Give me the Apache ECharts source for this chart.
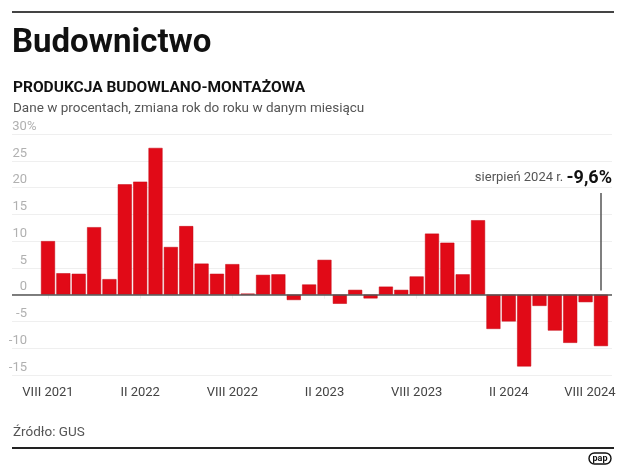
<!DOCTYPE html>
<html>
<head>
<meta charset="utf-8">
<script src="https://cdn.jsdelivr.net/npm/echarts@6/dist/echarts.min.js"></script>
<style>
  html, body { margin: 0; padding: 0; background: #fff; }
  #chart { width: 625px; height: 470px; }
</style>
</head>
<body>
<div id="chart"></div>
<script>
// Months VIII 2021 .. VIII 2024 (index 0..36)
const months = [
  'VIII 2021','IX 2021','X 2021','XI 2021','XII 2021',
  'I 2022','II 2022','III 2022','IV 2022','V 2022','VI 2022','VII 2022','VIII 2022','IX 2022','X 2022','XI 2022','XII 2022',
  'I 2023','II 2023','III 2023','IV 2023','V 2023','VI 2023','VII 2023','VIII 2023','IX 2023','X 2023','XI 2023','XII 2023',
  'I 2024','II 2024','III 2024','IV 2024','V 2024','VI 2024','VII 2024','VIII 2024'
];
const values = [
  10.0, 4.0, 3.9, 12.6, 2.9,
  20.6, 21.1, 27.4, 8.9, 12.8, 5.8, 3.9, 5.7, 0.2, 3.7, 3.8, -1.0,
  1.9, 6.5, -1.7, 0.9, -0.7, 1.5, 0.9, 3.4, 11.4, 9.7, 3.8, 13.9,
  -6.4, -5.0, -13.4, -2.1, -6.7, -9.0, -1.4, -9.6
];
const tickMonths = ['VIII 2021','II 2022','VIII 2022','II 2023','VIII 2023','II 2024','VIII 2024'];
const yTicks = [-15, -10, -5, 0, 5, 10, 15, 20, 25, 30];
const annotationMonth = 'VIII 2024';
const annotationText = 'sierpień 2024 r. ';
const annotationValue = '-9,6%';

const tickIdx = tickMonths.map(m => months.indexOf(m));
const annIdx = months.indexOf(annotationMonth);
const FONT = 'Roboto, "Noto Sans", sans-serif';

const chart = echarts.init(document.getElementById('chart'), null, { renderer: 'canvas' });

const option = {
  animation: false,
  backgroundColor: '#fff',
  textStyle: { fontFamily: FONT },
  grid: { left: 12, right: 13, top: 134, bottom: 95, containLabel: false },
  xAxis: {
    type: 'value',
    min: -2.344,
    max: 36.72,
    splitLine: { show: false },
    axisLine: { show: false },
    axisTick: {
      show: true, customValues: tickIdx, length: 4,
      lineStyle: { color: '#eeeeee', width: 1 }
    },
    axisLabel: {
      customValues: tickIdx,
      margin: 11,
      color: '#444',
      fontSize: 13,
      fontFamily: FONT,
      formatter: function (v) {
        const i = Math.round(v);
        const t = months[i];
        return i === months.length - 1 ? '{last|' + t + '}' : t;
      },
      rich: { last: { color: '#444', fontSize: 13, fontFamily: FONT, padding: [0, 22, 0, 0] } }
    }
  },
  yAxis: {
    type: 'value',
    min: yTicks[0],
    max: yTicks[yTicks.length - 1],
    interval: 5,
    axisLine: { show: false },
    axisTick: { show: false },
    splitLine: { lineStyle: { color: '#efefef', width: 1 } },
    axisLabel: {
      inside: true,
      margin: 0,
      align: 'left',
      verticalAlign: 'bottom',
      padding: [0, 0, 1, 0],
      color: '#b0b0b0',
      fontSize: 13,
      fontFamily: FONT,
      formatter: function (v) {
        return '{n|' + v + '}' + (v === yTicks[yTicks.length - 1] ? '{p|%}' : '');
      },
      rich: {
        n: { width: 15, align: 'right', color: '#b0b0b0', fontSize: 13, fontFamily: FONT },
        p: { color: '#b0b0b0', fontSize: 13, fontFamily: FONT }
      }
    }
  },
  series: [{
    type: 'bar',
    data: values.map((v, i) => [i, v]),
    barWidth: 14,
    itemStyle: { color: '#e10a17', borderColor: '#c4000e', borderWidth: 0.5 },
    markLine: {
      silent: true,
      symbol: 'none',
      label: { show: false },
      data: [
        { yAxis: 0, lineStyle: { color: '#555', width: 1.5, type: 'solid' } },
        [
          { coord: [annIdx, 0.8], lineStyle: { color: '#555', width: 1.5, type: 'solid' } },
          { coord: [annIdx, 19] }
        ]
      ]
    }
  }],
  graphic: [
    { type: 'line', shape: { x1: 12, y1: 12, x2: 614, y2: 12 }, style: { stroke: '#444', lineWidth: 2 } },
    { type: 'text', x: 12, y: 44, style: { text: 'Budownictwo', font: 'bold 33px ' + FONT, fill: '#111', verticalAlign: 'middle' } },
    { type: 'text', x: 13, y: 88, style: { text: 'PRODUKCJA BUDOWLANO-MONTAŻOWA', font: 'bold 15.5px ' + FONT, fill: '#111', verticalAlign: 'middle' } },
    { type: 'text', x: 13, y: 109, style: { text: 'Dane w procentach, zmiana rok do roku w danym miesiącu', font: '13.5px ' + FONT, fill: '#555', verticalAlign: 'middle' } },
    { type: 'text', x: 612, y: 178, style: {
        text: '{a|' + annotationText + '}{b|' + annotationValue + '}',
        align: 'right', verticalAlign: 'middle',
        rich: {
          a: { fontSize: 13, fontFamily: FONT, fill: '#555', color: '#555' },
          b: { fontSize: 18, fontFamily: FONT, fontWeight: 'bold', fill: '#111', color: '#111' }
        }
      } },
    { type: 'text', x: 13, y: 433, style: { text: 'Źródło: GUS', font: '13.5px ' + FONT, fill: '#555', verticalAlign: 'middle' } },
    { type: 'line', shape: { x1: 12, y1: 448, x2: 614, y2: 448 }, style: { stroke: '#222', lineWidth: 2 } },
    { type: 'rect', shape: { x: 589, y: 453, width: 22, height: 11, r: 5.5 }, style: { fill: '#fff', stroke: '#111', lineWidth: 1.4 } },
    { type: 'text', x: 600, y: 458.5, style: { text: 'pap', font: 'bold 9px ' + FONT, fill: '#111', align: 'center', verticalAlign: 'middle' } }
  ]
};
chart.setOption(option);
</script>
</body>
</html>
